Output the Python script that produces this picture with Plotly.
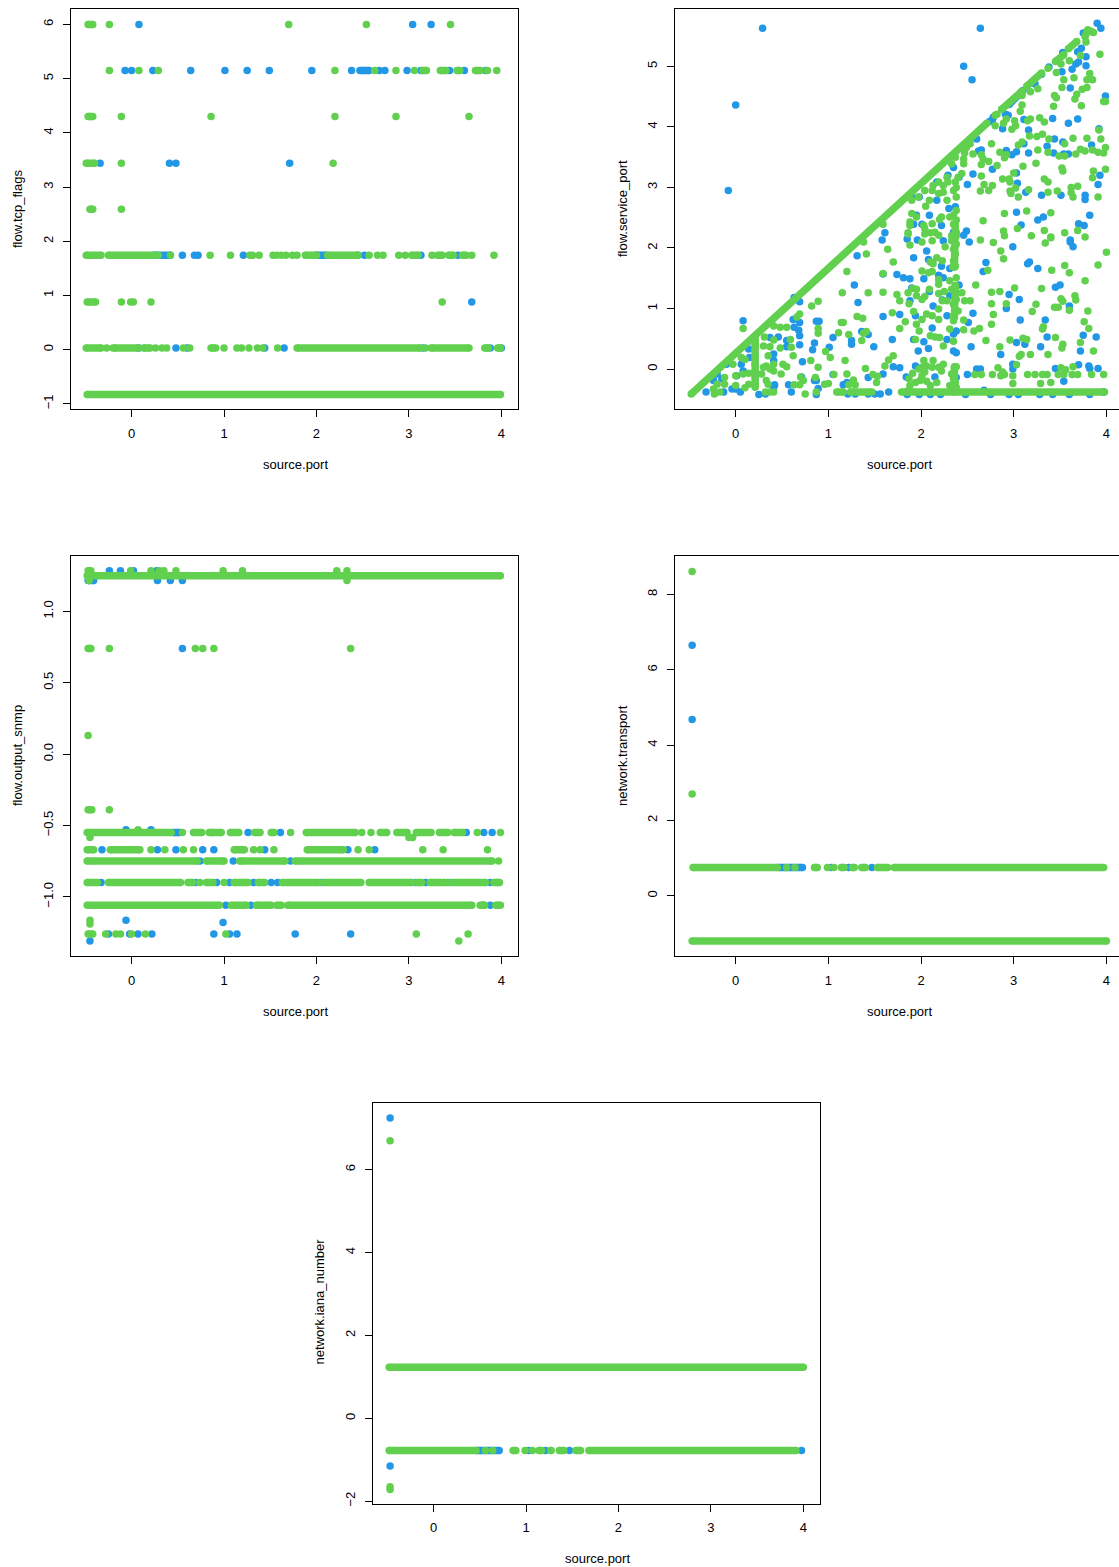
import plotly.graph_objects as go

BLUE = "#2297E6"
GREEN = "#61D04F"
X_TITLE = "source.port"
X_TICKS = [0, 1, 2, 3, 4]

# Each row: (level, marks); a mark is one x value, or (start, end) for the visible extent of a solid run of points.
TCP_BLUE = [
    (6.0, [0.08, 3.04, 3.24]),
    (5.15, [-0.07, 0.0, 0.23, 0.64, 1.01, 1.25, 1.49, 1.95, 2.38, (2.44, 2.60), 2.68, 2.74, 2.98, 3.13, 3.44, 3.60, 3.83]),
    (3.44, [-0.34, 0.41, 0.48, 1.71]),
    (1.74, [(0.22, 0.45), 0.55, 0.68, 0.72, 1.21, (1.97, 2.13), 2.45, 2.52, 3.13, 3.53]),
    (0.88, [3.68]),
    (0.03, [0.08, 0.48, 0.60, 1.44, 1.65, 3.15, 3.88, 4.0]),
]
TCP_GREEN = [
    (6.0, [(-0.50, -0.39), -0.24, 1.70, 2.54, 3.45]),
    (5.15, [-0.24, 0.08, 0.29, 2.20, 2.63, 2.86, 3.06, (3.12, 3.22), (3.31, 3.43), (3.49, 3.58), (3.69, 3.80), 3.85, 3.95]),
    (4.30, [(-0.50, -0.39), -0.11, 0.86, 2.20, 2.86, 3.65]),
    (3.44, [(-0.52, -0.37), -0.11, 2.18]),
    (2.59, [(-0.48, -0.39), -0.11]),
    (1.74, [(-0.52, -0.30), (-0.28, 0.27), 0.29, 0.42, 0.85, 1.07, 1.28, 1.31, 1.38, 1.53, 1.57, 1.62, 1.67, 1.74, 1.79,
            (1.85, 2.03), (2.09, 2.48), 2.57, 2.66, 2.72, 2.89, 2.96, (3.0, 3.13), 3.25, (3.28, 3.39), (3.40, 3.51),
            (3.55, 3.65), 3.68, 3.92]),
    (0.88, [(-0.51, -0.36), -0.11, -0.01, 0.02, 0.21, 3.36]),
    (0.03, [(-0.52, -0.30), -0.27, -0.2, (-0.21, 0.10), (0.10, 0.23), 0.26, 0.33, 0.38, 0.56, 0.63, (0.83, 0.94), 1.0,
            1.14, 1.19, 1.27, 1.36, 1.42, 1.58, (1.76, 3.15), 3.18, (3.21, 3.68), (3.79, 3.89), (3.93, 4.02)]),
    (-0.83, [(-0.51, 4.02)]),
]

# (x, y) pairs
SERVICE_BLUE = [
    (0.29, 5.63), (0.0, 4.36), (-0.08, 2.95), (2.64, 5.63), (2.46, 5.0), (2.55, 4.78), (3.90, 5.71), (3.94, 5.63), (3.75, 5.55),
    (3.78, 5.01), (3.70, 5.07), (3.67, 5.04), (3.63, 4.95), (3.52, 4.91), (3.53, 5.21), (3.69, 5.24), (3.73, 5.30), (3.78, 5.16),
    (3.61, 4.64), (3.99, 4.51), (3.42, 4.14), (3.69, 4.13), (3.59, 4.06), (3.92, 3.97), (3.44, 3.80), (3.84, 3.70), (3.53, 3.75),
    (3.36, 3.68), (3.43, 3.57), (3.54, 3.55), (3.59, 3.55), (3.16, 3.95), (3.11, 4.12), (2.88, 3.97), (2.78, 4.16), (2.91, 4.21),
    (2.94, 4.19), (3.11, 3.72), (3.16, 3.57), (2.92, 3.61), (2.98, 3.54), (3.03, 3.59), (2.65, 3.62), (2.62, 3.60), (2.77, 3.30),
    (2.56, 3.22), (2.50, 3.05), (3.03, 3.24), (3.04, 3.07), (3.13, 2.92), (3.30, 2.87), (3.51, 2.87), (3.77, 2.87), (3.77, 2.80),
    (3.93, 3.20), (3.91, 3.05), (3.82, 2.54), (3.70, 2.40), (3.76, 2.37), (3.03, 2.59), (3.08, 2.38), (3.26, 2.46), (3.32, 2.51),
    (3.61, 2.13), (2.60, 3.80), (2.35, 3.33), (2.29, 3.20), (2.41, 3.17), (2.17, 3.09), (2.17, 2.79), (2.37, 2.68), (2.30, 2.65),
    (2.09, 2.54), (2.22, 2.37), (1.95, 2.54), (1.92, 2.39), (2.01, 2.39), (1.61, 2.25), (1.85, 2.15), (1.58, 2.13), (2.49, 2.28),
    (2.35, 2.26), (2.46, 2.21), (1.90, 2.84), (1.98, 2.84), (2.52, 2.10), (1.96, 2.13), (2.24, 2.12), (2.99, 2.02), (2.70, 1.76),
    (2.67, 1.61), (1.31, 1.87), (1.92, 1.84), (2.06, 1.95), (2.08, 1.81), (2.12, 1.76), (2.22, 1.70), (2.31, 1.66), (1.74, 1.56),
    (1.81, 1.51), (1.88, 1.49), (1.59, 1.57), (2.03, 1.49), (2.19, 1.55), (2.24, 1.51), (2.41, 1.39), (1.28, 1.39), (1.90, 1.34),
    (1.88, 1.13), (2.09, 1.28), (2.95, 1.23), (3.06, 1.15), (2.92, 1.0), (3.15, 1.74), (3.17, 1.77), (3.26, 1.66), (3.61, 2.10),
    (3.64, 2.02), (3.45, 1.35), (3.50, 1.39), (3.60, 1.04), (3.07, 0.81), (3.34, 0.81), (3.36, 0.53), (3.75, 0.56), (3.89, 0.53),
    (3.72, 0.30), (3.29, 0.37), (3.12, 0.41), (3.03, 0.44), (2.54, 0.37), (2.86, 0.24), (2.56, 0.92), (2.51, 0.77), (2.99, 0.08),
    (2.99, 0.0), (2.60, 0.0), (2.64, 0.0), (2.50, -0.09), (3.45, 0.01), (3.70, 0.07), (3.81, 0.05), (3.82, 0.01), (3.91, 0.01),
    (3.54, -0.2), (2.68, -0.35), (1.94, 0.88), (2.13, 1.04), (2.23, 1.14), (2.31, 1.21), (2.28, 0.88), (2.12, 0.68), (2.38, 0.63),
    (2.35, 0.58), (2.28, 0.49), (1.92, 0.49), (2.03, 0.45), (1.97, 0.30), (2.08, 0.34), (2.35, 0.30), (2.38, 0.27), (1.69, 0.49),
    (1.77, 0.90), (1.59, 0.87), (1.49, 0.37), (1.43, 0.57), (1.36, 0.62), (1.32, 1.10), (1.05, 0.52), (1.01, 0.36), (1.25, 0.47),
    (1.25, 0.41), (0.87, 0.79), (0.90, 0.79), (0.85, 0.43), (0.83, 0.32), (0.69, 0.77), (0.62, 0.82), (0.63, 0.69), (0.68, 0.64),
    (0.69, 0.55), (0.69, 0.40), (0.72, 0.12), (0.55, 0.47), (0.55, 0.37), (0.46, 0.53), (0.08, 0.80), (0.14, 0.33), (0.63, 1.18),
    (0.69, 1.11), (0.37, 0.52), (0.41, 0.14), (0.41, 0.25), (0.15, 0.19), (0.06, 0.08), (0.08, -0.03), (-0.10, 0.08), (-0.2, -0.08),
    (-0.24, -0.19), (-0.15, -0.16), (0.01, -0.11), (-0.04, -0.33), (0.0, -0.33), (0.05, -0.38), (-0.13, -0.38), (-0.32, -0.38),
    (0.25, -0.42), (0.32, -0.41), (0.41, -0.30), (0.42, -0.26), (0.57, -0.26), (0.60, -0.38), (0.87, -0.19), (0.85, -0.19), (0.89, -0.32),
    (0.87, -0.42), (0.71, -0.13), (1.05, -0.09), (1.16, -0.26), (1.20, -0.22), (1.21, -0.41), (1.29, -0.41), (1.43, -0.14), (1.43, -0.41),
    (1.50, -0.41), (1.56, -0.41), (1.65, -0.38), (1.59, -0.08), (1.70, 0.04), (1.77, 0.02), (1.84, -0.13), (1.94, 0.05), (2.38, -0.14),
    (2.15, -0.13), (1.85, -0.42), (1.98, -0.42), (2.10, -0.42), (2.21, -0.42), (2.48, -0.42), (2.75, -0.42), (2.95, -0.42), (3.05, -0.42),
    (3.28, -0.42), (3.42, -0.42), (3.60, -0.42), (3.82, -0.42), (3.97, -0.38),
    (2.77, 4.12), (2.74, 4.09), (3.23, 4.71), (3.30, 4.87), (3.38, 4.99), (3.53, 5.23),
]
SERVICE_GREEN = [
    (3.93, 5.20), (3.78, 5.40), (3.72, 5.18), (3.60, 5.09), (3.51, 5.04), (3.46, 4.90), (3.65, 4.81), (3.54, 4.78), (3.82, 4.88), (3.79, 4.78),
    (3.85, 4.78), (3.52, 4.65), (3.79, 4.65), (3.74, 4.62), (3.68, 4.54), (3.66, 4.46), (3.44, 4.52), (3.46, 4.48), (3.43, 4.34), (3.73, 4.35),
    (3.97, 4.42), (3.99, 4.42), (3.26, 4.63), (3.18, 4.58), (3.09, 4.52), (3.09, 4.36), (3.07, 4.26), (2.82, 4.21), (3.28, 4.15), (3.33, 4.08),
    (3.18, 4.13), (3.15, 4.10), (2.92, 4.13), (2.89, 4.06), (3.01, 4.10), (3.02, 4.02), (2.98, 3.96), (2.80, 4.02), (3.92, 3.95), (3.31, 3.88),
    (3.17, 3.85), (3.25, 3.84), (3.38, 3.80), (3.64, 3.81), (3.79, 3.81), (3.94, 3.80), (3.55, 3.72), (2.76, 3.72), (3.09, 3.75), (3.05, 3.70),
    (3.26, 3.62), (3.37, 3.58), (3.99, 3.66), (3.85, 3.62), (3.72, 3.63), (3.77, 3.60), (3.67, 3.55), (3.91, 3.58), (3.97, 3.57), (3.49, 3.52),
    (3.55, 3.52), (2.85, 3.58), (2.92, 3.54), (2.90, 3.49), (2.65, 3.54), (2.67, 3.47), (2.73, 3.43), (2.65, 3.38), (2.82, 3.36), (3.24, 3.40),
    (3.10, 3.35), (3.52, 3.32), (3.53, 3.27), (3.99, 3.30), (3.86, 3.27), (3.85, 3.16), (3.33, 3.14), (3.37, 3.09), (3.00, 3.24), (2.88, 3.14),
    (2.95, 3.14), (2.96, 3.09), (2.65, 3.19), (2.68, 3.05), (2.77, 3.03), (2.73, 2.95), (2.64, 2.94), (3.02, 2.99), (2.96, 2.94), (2.97, 2.90),
    (3.16, 2.96), (3.05, 2.84), (3.37, 2.92), (3.47, 2.94), (3.62, 3.0), (3.69, 3.02), (3.62, 2.91), (3.64, 2.84), (3.91, 2.84), (3.14, 2.61),
    (3.40, 2.58), (2.90, 2.57), (2.67, 2.45), (3.04, 2.32), (3.33, 2.29), (3.55, 2.25), (3.69, 2.29), (2.89, 2.28), (2.90, 2.20), (3.19, 2.20),
    (3.40, 2.18), (3.77, 2.18), (2.46, 3.47), (2.46, 3.39), (2.44, 3.23), (2.40, 3.17), (2.37, 3.09), (2.38, 3.0), (2.35, 2.95), (2.29, 3.09),
    (2.24, 3.03), (2.28, 3.17), (2.19, 3.09), (2.13, 3.03), (2.12, 2.95), (2.04, 2.95), (2.19, 2.90), (2.24, 2.92), (2.28, 2.79), (2.38, 2.84),
    (2.09, 2.79), (2.05, 2.69), (2.38, 2.62), (2.35, 2.54), (2.31, 2.51), (2.38, 2.46), (2.35, 2.39), (2.22, 2.51), (2.20, 2.47), (1.90, 2.57),
    (1.95, 2.51), (1.88, 2.43), (1.88, 2.37), (2.03, 2.37), (2.12, 2.40), (2.04, 2.32), (2.10, 2.25), (2.15, 2.26), (2.38, 2.26), (1.86, 2.25),
    (1.59, 2.39), (1.90, 2.79), (1.97, 2.84), (2.56, 3.55), (2.47, 3.57), (2.53, 3.72), (2.49, 3.66), (2.37, 3.5), (2.33, 3.39),
    (1.38, 2.10), (1.41, 1.90), (1.20, 1.61), (1.15, 1.26), (1.43, 1.26), (1.59, 1.58), (1.59, 1.27), (1.70, 1.77), (1.64, 1.98), (1.74, 1.23),
    (1.77, 1.13), (1.86, 1.26), (1.91, 1.33), (1.95, 1.32), (1.87, 1.08), (1.95, 1.21), (2.01, 1.15), (2.04, 1.20), (1.69, 0.93), (1.83, 0.78),
    (1.77, 0.67), (1.92, 0.95), (1.95, 0.74), (1.98, 0.63), (1.94, 0.49), (2.01, 0.82), (2.06, 0.91), (2.12, 0.88), (2.19, 0.82), (2.19, 0.99),
    (2.09, 1.32), (2.01, 1.62), (2.08, 1.59), (2.12, 1.61), (2.19, 1.48), (2.19, 1.40), (2.19, 1.25), (2.25, 1.28), (2.23, 1.13), (2.28, 1.13),
    (2.17, 1.84), (2.23, 1.79), (2.10, 1.77), (2.13, 1.74), (2.34, 1.69), (2.37, 1.70), (2.35, 1.79), (2.37, 1.90), (2.35, 1.98), (2.38, 2.06),
    (2.33, 2.12), (2.38, 2.20), (2.33, 2.20), (2.26, 2.02), (2.01, 2.10), (2.12, 2.12), (2.19, 2.21), (2.04, 2.23), (1.86, 2.23), (1.88, 2.05),
    (2.38, 1.51), (2.31, 1.46), (2.37, 1.37), (2.33, 1.32), (2.38, 1.24), (2.38, 1.15), (2.35, 1.07), (2.40, 0.96), (2.35, 0.88), (2.35, 0.80),
    (2.31, 0.66), (2.46, 0.65), (2.35, 0.46), (2.44, 1.26), (2.47, 1.13), (2.53, 1.13), (2.46, 0.81), (2.57, 0.63), (2.63, 0.67), (2.70, 0.47),
    (2.10, 0.55), (2.15, 0.53), (2.20, 0.52), (2.24, 0.38), (2.72, 1.63), (2.59, 1.39), (2.76, 1.27), (2.85, 1.28), (2.76, 1.08), (2.92, 1.08),
    (2.78, 0.90), (2.76, 0.74), (2.96, 0.48), (2.85, 0.37), (3.01, 1.34), (3.10, 0.51), (3.14, 0.49), (3.30, 1.33), (3.24, 1.07), (3.20, 0.95),
    (3.44, 1.02), (3.48, 1.02), (3.51, 1.16), (3.53, 1.12), (3.66, 1.21), (3.67, 1.14), (3.60, 0.97), (3.80, 0.96), (3.76, 0.78), (3.81, 0.67),
    (3.32, 0.70), (3.31, 0.66), (3.45, 0.52), (3.53, 0.41), (3.52, 0.35), (3.72, 0.44), (3.86, 0.30), (3.37, 0.24), (3.08, 0.24), (3.06, 0.21),
    (3.03, 0.07), (3.18, 0.24), (3.55, 1.71), (3.60, 1.59), (3.77, 1.46), (3.91, 1.72), (4.0, 1.93), (3.34, 2.08), (3.40, 2.17), (2.78, 2.09),
    (2.86, 1.95), (2.89, 1.82), (2.64, 2.13), (3.41, 1.63), (2.83, 0.02), (2.88, -0.05), (2.90, -0.09), (2.77, -0.09), (2.86, -0.11), (2.99, -0.11),
    (2.99, -0.24), (3.15, -0.09), (3.23, -0.09), (3.31, -0.09), (3.36, -0.09), (3.48, -0.09), (3.54, -0.09), (3.63, -0.09), (3.69, -0.09), (3.51, 0.02),
    (3.56, -0.01), (3.64, 0.04), (3.84, -0.09), (3.97, -0.09), (3.29, -0.24), (3.40, -0.22), (2.58, -0.09), (2.65, -0.09), (2.38, 0.04), (2.36, -0.03),
    (2.33, -0.08), (2.35, -0.16), (2.37, -0.22), (2.31, -0.27), (2.38, -0.30), (2.35, -0.33), (2.24, 0.08), (2.19, 0.03), (2.13, 0.14), (2.03, 0.14),
    (2.01, 0.03), (2.06, 0.05), (1.98, 0.0), (2.01, -0.11), (2.04, -0.05), (2.12, 0.03), (2.22, -0.03), (1.91, -0.07), (1.87, -0.16), (1.94, -0.22),
    (1.99, -0.19), (2.06, -0.20), (2.10, -0.27), (2.17, -0.22), (1.88, -0.27), (1.86, -0.36), (1.70, 0.22), (1.65, 0.15), (1.61, 0.05), (1.48, -0.09),
    (1.53, -0.12), (1.52, -0.22), (1.40, 0.01), (1.27, -0.18), (1.22, -0.26), (1.29, -0.26), (1.20, -0.08), (1.18, 0.14), (1.06, -0.09), (1.0, -0.24),
    (0.96, -0.25), (0.89, 0.03), (0.97, 0.29), (1.02, 0.19), (0.81, 0.14), (0.86, -0.14), (0.87, -0.38), (0.75, -0.41), (0.69, -0.26), (0.73, -0.19),
    (0.70, -0.13), (0.63, -0.26), (0.62, 0.22), (0.60, 0.36), (0.59, 0.49), (0.49, -0.08), (0.51, 0.08), (0.55, 0.04), (0.48, 0.35), (0.41, 0.08),
    (0.41, -0.03), (0.33, 0.05), (0.30, 0.38), (0.37, 0.37), (0.35, 0.22), (0.41, 0.48), (0.31, 0.53), (0.48, 0.69), (0.55, 0.69), (0.41, 0.71),
    (1.11, 0.60), (1.14, 0.77), (1.16, 0.77), (1.22, 0.57), (1.31, 0.87), (1.37, 0.84), (1.41, 0.62), (1.38, 0.59), (1.36, 0.47), (0.82, 1.04),
    (0.89, 1.12), (0.69, 0.91), (0.66, 0.86), (0.89, 0.67), (0.89, 0.59), (0.08, 0.67), (0.21, 0.41), (0.21, 0.30), (0.21, 0.19), (0.21, 0.08),
    (0.21, -0.03), (0.21, -0.14), (0.21, -0.25), (0.08, -0.08), (0.14, -0.07), (0.0, -0.11), (0.1, 0.16), (0.06, 0.19), (-0.03, 0.08), (-0.12, -0.14),
    (-0.12, -0.25), (-0.2, -0.25), (-0.24, -0.33), (-0.17, -0.38), (-0.23, -0.41), (0.0, -0.27), (0.1, -0.31), (0.14, -0.25), (0.28, -0.08), (0.33, -0.19),
    (0.35, -0.25), (0.32, -0.38), (0.41, -0.38), (0.37, -0.38), (0.3, 0.03), (0.37, 0.0), (2.80, 4.19), (3.37, 4.97),
]
# Diagonal, floor and column runs: ((x0, y0), (x1, y1))
SERVICE_RUNS_BLUE = [((2.95, 4.37), (3.10, 4.60))]
SERVICE_RUNS_GREEN = [
    ((-0.48, -0.41), (2.71, 4.06)), ((2.87, 4.29), (3.09, 4.59)), ((3.14, 4.67), (3.30, 4.89)),
    ((3.45, 5.08), (3.54, 5.19)), ((3.59, 5.29), (3.68, 5.41)), ((3.77, 5.49), (3.80, 5.60)), ((3.80, 5.60), (3.86, 5.56)),
    ((1.09, -0.38), (1.16, -0.38)), ((1.24, -0.38), (1.47, -0.38)), ((1.79, -0.38), (3.98, -0.38)),
    ((2.36, -0.38), (2.36, 0.04)), ((2.36, 0.85), (2.37, 1.38)), ((2.36, 1.68), (2.37, 2.40)), ((0.21, -0.30), (0.21, 0.50)),
]

SNMP_BLUE = [
    (1.285, [-0.24, -0.12, 0.02, 0.27]),
    (1.215, [(-0.50, -0.38), 0.28, 0.42, 0.55]),
    (0.74, [0.55]),
    (-0.53, [-0.06, 0.21]),
    (-0.55, [(0.42, 0.55), 0.88, 1.26, 1.61, 3.62, 3.81, 3.90]),
    (-0.67, [-0.32, 0.28, 0.48, 0.77, 0.89, 1.44, 2.34, 2.63]),
    (-0.75, [0.74, 1.10, 1.72]),
    (-0.90, [-0.33, 0.69, 0.92, 1.06, 1.32, 1.51, 1.58, 2.05, 3.07, 3.18, 3.42, 3.88, 3.95]),
    (-1.06, [1.02, 1.29, 3.80, 3.88]),
    (-1.165, [-0.06]),
    (-1.18, [0.99]),
    (-1.26, [-0.25, -0.02, 0.07, 0.22, 0.89, 1.06, 1.14, 1.77, 2.37]),
    (-1.31, [-0.45]),
]
SNMP_GREEN = [
    (1.285, [(-0.50, -0.41), -0.01, 0.21, 0.30, 0.35, 0.48, 0.99, 1.2, 2.22, 2.33]),
    (1.25, [(-0.51, 4.02)]),
    (1.215, [-0.46, 2.33]),
    (0.74, [(-0.50, -0.41), -0.24, 0.69, 0.77, 0.89, 2.37]),
    (0.13, [-0.47]),
    (-0.39, [(-0.50, -0.40), -0.24]),
    (-0.53, [0.07]),
    (-0.55, [(-0.51, 0.46), 0.55, (0.64, 0.79), (0.81, 1.0), (1.04, 1.19), (1.30, 1.42), (1.48, 1.57), 1.72, (1.86, 2.45),
             2.49, 2.59, (2.66, 2.79), (2.84, 3.01), (3.05, 3.27), (3.30, 3.45), (3.46, 3.61), 3.74, 3.99]),
    (-0.585, [-0.45, 3.0, 3.04]),
    (-0.67, [(-0.51, -0.38), (-0.26, 0.12), 0.21, 0.36, 0.56, 0.67, (1.08, 1.25), 1.32, 1.39, 1.54, (1.87, 2.32), 2.45, 2.57, 3.15, 3.37, 3.85]),
    (-0.75, [(-0.51, 0.74), (0.78, 1.03), (1.14, 1.69), (1.74, 3.93), 3.97]),
    (-0.90, [(-0.51, -0.34), (-0.28, 0.56), (0.58, 0.69), 0.74, (0.78, 0.91), 1.0, (1.08, 1.29), (1.34, 1.47), (1.60, 2.05), (2.05, 2.51),
             (2.54, 3.06), (3.06, 3.17), (3.20, 3.42), (3.42, 3.86), (3.89, 4.01)]),
    (-1.06, [(-0.51, 0.98), (1.05, 1.27), (1.32, 1.54), (1.54, 1.65), (1.66, 3.71), (3.74, 3.85), (3.91, 4.02)]),
    (-1.165, [-0.45]),
    (-1.19, [-0.45]),
    (-1.26, [(-0.50, -0.39), -0.28, -0.17, -0.12, 0.0, 0.15, 1.02, 3.08, 3.64]),
    (-1.31, [3.54]),
]

TRANSPORT_BLUE = [
    (6.65, [-0.47]),
    (4.68, [-0.47]),
    (0.75, [(0.44, 0.75), 1.03, 1.22, 1.47]),
]
TRANSPORT_GREEN = [
    (8.61, [-0.47]),
    (2.70, [-0.47]),
    (0.75, [(-0.49, 0.48), 0.55, 0.64, (0.82, 0.91), 0.99, 1.06, (1.11, 1.2), (1.23, 1.31), (1.33, 1.43), (1.5, 1.67), (1.68, 4.0)]),
    (-1.20, [(-0.50, 4.03)]),
]

IANA_BLUE = [
    (7.25, [-0.47]),
    (-0.78, [(0.44, 0.74), 1.03, 1.21, 1.47, 3.98]),
    (-1.15, [-0.47]),
]
IANA_GREEN = [
    (6.70, [-0.47]),
    (1.23, [(-0.51, 4.03)]),
    (-0.78, [(-0.51, 0.49), 0.56, 0.64, (0.83, 0.92), 0.99, 1.07, (1.11, 1.2), (1.24, 1.3), (1.33, 1.44), (1.51, 1.62), (1.65, 3.95)]),
    (-1.65, [-0.47]),
    (-1.72, [-0.47]),
]

RUN_INSET = 0.03  # half a dot: runs above are noted by their visible extent


def from_rows(rows):
    xs, ys = [], []
    for level, marks in rows:
        for m in marks:
            if isinstance(m, tuple):
                a, b = m[0] + RUN_INSET, m[1] - RUN_INSET
                if a > b:
                    a = b = (m[0] + m[1]) / 2
                xs += [a, b, None]
                ys += [level, level, None]
            else:
                xs += [m, None]
                ys += [level, None]
    return xs, ys


def from_pairs(pairs, runs=()):
    xs, ys = [], []
    for a, b in runs:
        xs += [a[0], b[0], None]
        ys += [a[1], b[1], None]
    for x, y in pairs:
        xs += [x, None]
        ys += [y, None]
    return xs, ys


W, H = 1119, 1567
DOT = 7.5
PANELS = [
    dict(px=(71, 518), py=(9, 410), xr=(-0.655, 4.18), yr=(-1.10, 6.285), yt=[-1, 0, 1, 2, 3, 4, 5, 6], fmt="d",
         title="flow.tcp_flags", blue=from_rows(TCP_BLUE), green=from_rows(TCP_GREEN), tx=(295, 465), ty=(17, 209.5), box=True),
    dict(px=(675, 1119), py=(9, 410), xr=(-0.655, 4.136), yr=(-0.663, 5.947), yt=[0, 1, 2, 3, 4, 5], fmt="d",
         title="flow.service_port", blue=from_pairs(SERVICE_BLUE, SERVICE_RUNS_BLUE), green=from_pairs(SERVICE_GREEN, SERVICE_RUNS_GREEN),
         tx=(899, 465), ty=(622, 209.5), box=False),
    dict(px=(71, 518), py=(557, 958), xr=(-0.655, 4.18), yr=(-1.416, 1.388), yt=[-1, -0.5, 0, 0.5, 1], fmt=".1f",
         title="flow.output_snmp", blue=from_rows(SNMP_BLUE), green=from_rows(SNMP_GREEN), tx=(295, 1013), ty=(17, 757.5), box=True),
    dict(px=(675, 1119), py=(557, 958), xr=(-0.655, 4.136), yr=(-1.603, 9.02), yt=[0, 2, 4, 6, 8], fmt="d",
         title="network.transport", blue=from_rows(TRANSPORT_BLUE), green=from_rows(TRANSPORT_GREEN), tx=(899, 1013), ty=(622, 757.5), box=False),
    dict(px=(373, 820), py=(1105.5, 1506.5), xr=(-0.655, 4.18), yr=(-2.06, 7.60), yt=[-2, 0, 2, 4, 6], fmt="d",
         title="network.iana_number", blue=from_rows(IANA_BLUE), green=from_rows(IANA_GREEN), tx=(597, 1561), ty=(320, 1304), box=True),
]

FONT = dict(family="Liberation Sans, Arial, sans-serif", size=13, color="#000000")
fig = go.Figure()
layout = dict(width=W, height=H, margin=dict(l=0, r=0, t=0, b=0), paper_bgcolor="white", plot_bgcolor="white",
              showlegend=False, font=FONT)
annotations = []

for i, p in enumerate(PANELS, start=1):
    xa, ya = f"x{i}", f"y{i}"
    for (xs, ys), col in ((p["blue"], BLUE), (p["green"], GREEN)):
        fig.add_trace(go.Scatter(x=xs, y=ys, xaxis=xa, yaxis=ya, mode="lines+markers",
                                 line=dict(color=col, width=DOT), marker=dict(color=col, size=DOT, line=dict(width=0)),
                                 connectgaps=False, hoverinfo="skip"))
    layout[f"xaxis{i}"] = dict(domain=[p["px"][0] / W, p["px"][1] / W], range=list(p["xr"]), anchor=ya,
                               tickmode="array", tickvals=X_TICKS, ticks="outside", ticklen=7, tickwidth=1,
                               tickcolor="#000", showline=True, linecolor="#000", linewidth=1, mirror=True,
                               showgrid=False, zeroline=False, ticklabelstandoff=5, tickfont=FONT)
    layout[f"yaxis{i}"] = dict(domain=[1 - p["py"][1] / H, 1 - p["py"][0] / H], range=list(p["yr"]), anchor=xa,
                               tickmode="array", tickvals=p["yt"], tickformat=p["fmt"], ticks="outside", ticklen=7, tickwidth=1,
                               tickcolor="#000", showline=True, linecolor="#000", linewidth=1, mirror=p["box"],
                               showgrid=False, zeroline=False, tickangle=-90, ticklabelstandoff=5, tickfont=FONT)
    annotations.append(dict(text=X_TITLE, xref="paper", yref="paper", x=p["tx"][0] / W, y=1 - p["tx"][1] / H,
                            xanchor="center", yanchor="middle", showarrow=False, font=FONT))
    annotations.append(dict(text=p["title"], xref="paper", yref="paper", x=p["ty"][0] / W, y=1 - p["ty"][1] / H,
                            xanchor="center", yanchor="middle", showarrow=False, textangle=-90, font=FONT))

layout["annotations"] = annotations
fig.update_layout(**layout)
# The browser's default 8 px body margin would push the figure off the window.
fig.write_html("out.html", config={"displayModeBar": False}, post_script="document.body.style.margin = '0';")
